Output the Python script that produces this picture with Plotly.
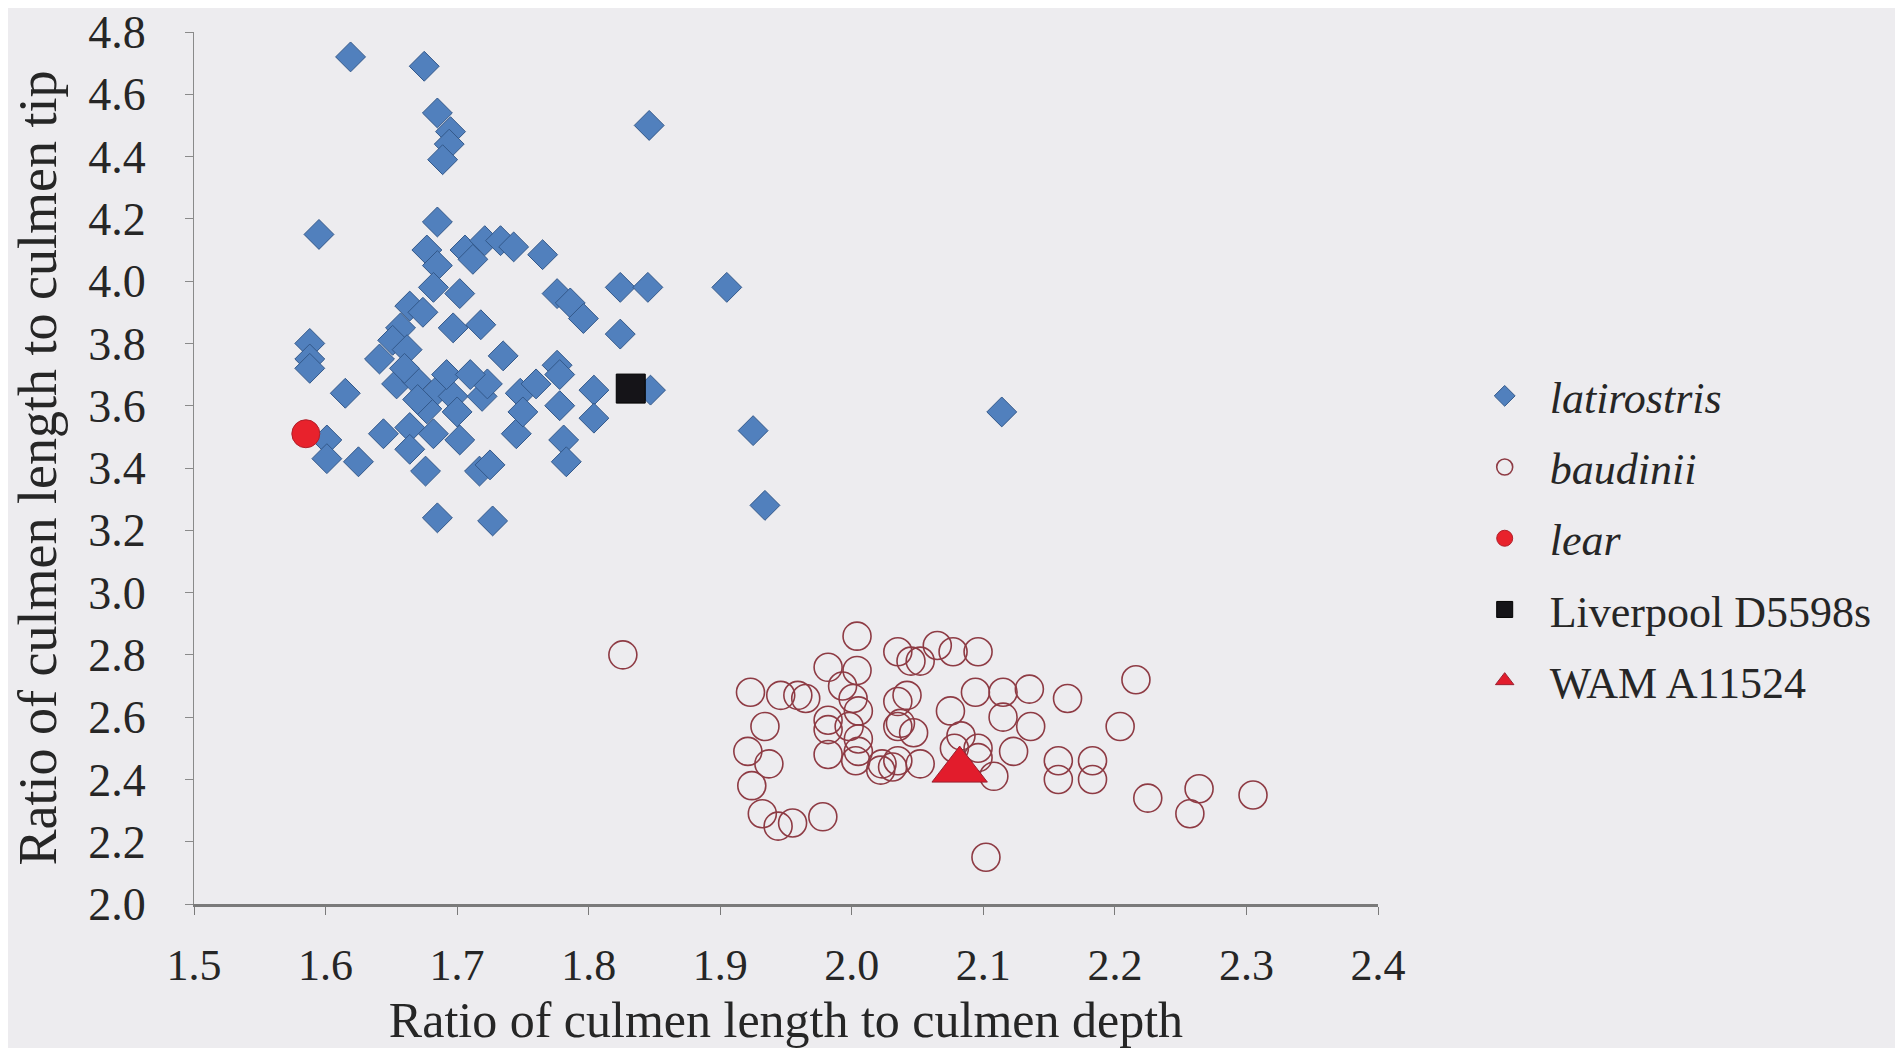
import plotly.graph_objects as go

# ---- data ----
lat_x = [1.619, 1.675, 1.685, 1.695, 1.694, 1.689, 1.846, 1.595, 1.685, 1.677,
         1.685, 1.706, 1.721, 1.712, 1.733, 1.743, 1.765, 1.682, 1.702, 1.664,
         1.657, 1.674, 1.697, 1.718, 1.651, 1.662, 1.641, 1.588, 1.588, 1.588,
         1.776, 1.786, 1.796, 1.824, 1.845, 1.905, 1.824, 1.735, 1.776, 1.615,
         1.654, 1.669, 1.685, 1.697, 1.664, 1.682, 1.702, 1.677, 1.692, 1.719,
         1.601, 1.601, 1.625, 1.644, 1.664, 1.676, 1.717, 1.685, 1.727, 1.723,
         1.748, 1.745, 1.778, 1.778, 1.804, 1.847, 1.804, 1.781, 1.783, 1.725,
         1.925, 1.934, 2.114, 1.670, 1.700, 1.660, 1.710, 1.750, 1.760]
lat_y = [4.72, 4.69, 4.54, 4.48, 4.44, 4.39, 4.50, 4.15, 4.19, 4.10,
         4.05, 4.10, 4.13, 4.07, 4.13, 4.11, 4.085, 3.98, 3.96, 3.92,
         3.85, 3.90, 3.85, 3.86, 3.81, 3.78, 3.75, 3.80, 3.75, 3.72,
         3.96, 3.93, 3.88, 3.98, 3.98, 3.98, 3.83, 3.76, 3.73, 3.64,
         3.67, 3.68, 3.65, 3.63, 3.53, 3.51, 3.49, 3.59, 3.70, 3.63,
         3.49, 3.43, 3.42, 3.51, 3.46, 3.39, 3.39, 3.24, 3.23, 3.67,
         3.64, 3.51, 3.70, 3.60, 3.65, 3.65, 3.56, 3.49, 3.42, 3.41,
         3.52, 3.28, 3.58, 3.62, 3.58, 3.72, 3.70, 3.58, 3.67]

bau_x = [1.826, 2.004, 2.035, 2.045, 1.982, 2.004, 1.923, 1.946, 1.959, 1.965,
         1.993, 2.001, 2.005, 1.934, 1.982, 1.982, 1.998, 2.005, 2.035, 2.042,
         2.035, 1.921, 1.937, 1.982, 2.003, 2.005, 2.023, 2.031, 2.035, 1.924,
         1.932, 1.944, 1.955, 1.978, 2.065, 2.077, 2.096, 2.052, 2.094, 2.115,
         2.135, 2.164, 2.075, 2.115, 2.136, 2.083, 2.123, 2.096, 2.157, 2.157,
         2.183, 2.183, 2.052, 2.108, 2.102, 2.216, 2.204, 2.225, 2.264, 2.257,
         2.305, 2.078, 2.096, 2.022, 2.047, 2.037]
bau_y = [2.80, 2.86, 2.81, 2.78, 2.76, 2.75, 2.68, 2.67, 2.67, 2.66,
         2.70, 2.66, 2.62, 2.57, 2.59, 2.56, 2.57, 2.53, 2.65, 2.67,
         2.57, 2.49, 2.45, 2.48, 2.46, 2.49, 2.45, 2.44, 2.46, 2.38,
         2.29, 2.25, 2.26, 2.28, 2.83, 2.81, 2.81, 2.78, 2.68, 2.68,
         2.69, 2.66, 2.62, 2.60, 2.57, 2.54, 2.49, 2.50, 2.46, 2.40,
         2.46, 2.40, 2.45, 2.41, 2.15, 2.72, 2.57, 2.34, 2.37, 2.29,
         2.35, 2.50, 2.47, 2.43, 2.55, 2.58]

lear_x = [1.585]
lear_y = [3.51]
liv_x = [1.832]
liv_y = [3.655]
wam_x = [2.082]
wam_y = [2.43]

x_ticks = [1.5, 1.6, 1.7, 1.8, 1.9, 2.0, 2.1, 2.2, 2.3, 2.4]
y_ticks = [2.0, 2.2, 2.4, 2.6, 2.8, 3.0, 3.2, 3.4, 3.6, 3.8, 4.0, 4.2, 4.4, 4.6, 4.8]

FONT = "Liberation Serif"
BG = "#edecef"
TXT = "#262626"

fig = go.Figure()
fig.add_trace(go.Scatter(
    x=lat_x, y=lat_y, mode="markers", name="<i>latirostris</i>", legendgroup="a",
    marker=dict(symbol="diamond", size=23, color="#5180bd",
                line=dict(color="#33588a", width=1))))
fig.add_trace(go.Scatter(
    x=bau_x, y=bau_y, mode="markers", name="<i>baudinii</i>", legendgroup="b",
    marker=dict(symbol="circle-open", size=28, color="#8e3b44",
                line=dict(color="#8e3b44", width=1.6))))
fig.add_trace(go.Scatter(
    x=lear_x, y=lear_y, mode="markers", name="<i>lear</i>", legendgroup="c",
    marker=dict(symbol="circle", size=28, color="#e8222c",
                line=dict(color="#b0202a", width=1))))
fig.add_trace(go.Scatter(
    x=liv_x, y=liv_y, mode="markers", name="Liverpool D5598s", legendgroup="d",
    marker=dict(symbol="square", size=29, color="#151418",
                line=dict(color="#000000", width=1))))
fig.add_trace(go.Scatter(
    x=wam_x, y=wam_y, mode="markers", name="WAM A11524", legendgroup="e",
    marker=dict(symbol="triangle-up", size=48, color="#e21c2c",
                line=dict(color="#9a2030", width=1))))

fig.update_layout(
    width=1895, height=1040,
    margin=dict(l=186, r=525, t=24, b=144, autoexpand=False),
    paper_bgcolor=BG, plot_bgcolor=BG,
    font=dict(family=FONT, color=TXT, size=42),
    legend=dict(x=1.069, xanchor="left", y=0.623, yanchor="top",
                font=dict(family=FONT, size=44, color=TXT),
                tracegroupgap=11, traceorder="grouped", itemwidth=80,
                bgcolor="rgba(0,0,0,0)"),
    showlegend=True,
)
fig.update_xaxes(
    range=[1.5, 2.4], tickvals=x_ticks, ticktext=[f"{v:.1f}" for v in x_ticks],
    showgrid=False, zeroline=False, automargin=False,
    showline=True, linecolor="#7a7a7a", linewidth=3,
    ticks="outside", ticklen=8, tickcolor="#7a7a7a", tickwidth=1,
    ticklabelstandoff=12, ticklabeloverflow="allow",
    tickfont=dict(family=FONT, size=44, color=TXT),
    title=dict(text="Ratio of culmen length to culmen depth",
               font=dict(family=FONT, size=50, color=TXT), standoff=30),
)
fig.update_yaxes(
    range=[2.0, 4.8], tickvals=y_ticks, ticktext=[f"{v:.1f}" for v in y_ticks],
    showgrid=False, zeroline=False, automargin=False,
    showline=True, linecolor="#8a8a8a", linewidth=1,
    ticks="outside", ticklen=8, tickcolor="#8a8a8a", tickwidth=1,
    ticklabelstandoff=30, ticklabeloverflow="allow",
    tickfont=dict(family=FONT, size=46, color=TXT),
    title=dict(text="Ratio of culmen length to culmen tip",
               font=dict(family=FONT, size=54, color=TXT), standoff=24),
)

fig.write_html("out.html")
